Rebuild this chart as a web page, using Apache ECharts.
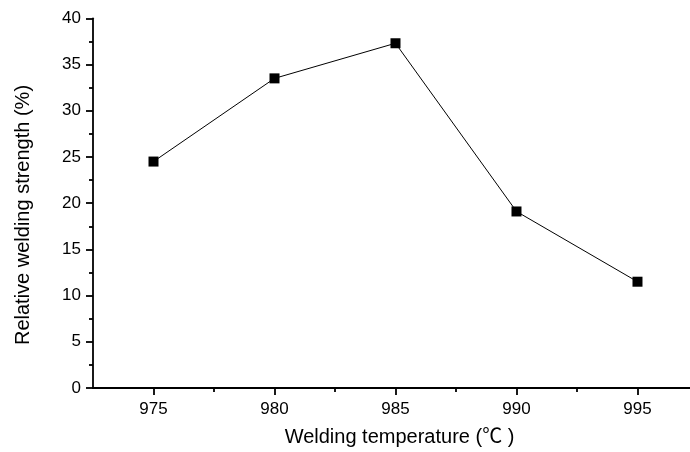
<!DOCTYPE html>
<html>
<head>
<meta charset="utf-8">
<script src="https://cdn.jsdelivr.net/npm/echarts@6/dist/echarts.min.js"></script>
<style>html,body{margin:0;padding:0;background:#fff;}#c{width:690px;height:452px;}</style>
</head>
<body>
<div id="c"></div>
<script>
const temperatures = [975, 980, 985, 990, 995];
const strengths = [24.5, 33.5, 37.3, 19.1, 11.5];
const xMajorTicks = [975, 980, 985, 990, 995];
const xMinorTicks = [977.5, 982.5, 987.5, 992.5];
const xTitle = 'Welding temperature (\u2103 )';
const yTitle = 'Relative welding strength (%)';

const font = 'Arial, "Liberation Sans", "Noto Sans CJK SC", sans-serif';
const chart = echarts.init(document.getElementById('c'), null, {renderer: 'canvas'});
chart.setOption({
  animation: false,
  backgroundColor: '#fff',
  grid: {left: 93, right: 0, top: 18.3, bottom: 63.3, containLabel: false},
  xAxis: [{
    type: 'value', min: 972.5, max: 997.17, position: 'bottom',
    axisLine: {show: true, onZero: false, lineStyle: {color: '#000', width: 1.8}},
    axisTick: {show: true, customValues: xMajorTicks, length: 7, inside: false, lineStyle: {color: '#000', width: 1.8}},
    axisLabel: {customValues: xMajorTicks, margin: 13, color: '#000', fontSize: 17, fontFamily: font},
    splitLine: {show: false},
    name: xTitle, nameLocation: 'middle', nameGap: 39,
    nameTextStyle: {color: '#000', fontSize: 20, fontFamily: font, padding: [0, 0, 0, 16]}
  }, {
    type: 'value', min: 972.5, max: 997.17, position: 'bottom', gridIndex: 0,
    axisLine: {show: false, onZero: false},
    axisTick: {show: true, customValues: xMinorTicks, length: 4, lineStyle: {color: '#000', width: 1.8}},
    axisLabel: {show: false},
    splitLine: {show: false}
  }],
  yAxis: {
    type: 'value', min: 0, max: 40, interval: 5,
    axisLine: {show: true, onZero: false, lineStyle: {color: '#000', width: 1.8}},
    axisTick: {show: true, length: 7, lineStyle: {color: '#000', width: 1.8}},
    minorTick: {show: true, splitNumber: 2, length: 4, lineStyle: {color: '#000', width: 1.8}},
    axisLabel: {margin: 12, color: '#000', fontSize: 17, fontFamily: font},
    splitLine: {show: false}
  },
  graphic: [{
    type: 'text', x: 13, y: 215, rotation: Math.PI / 2,
    style: {text: yTitle, fill: '#000', font: '20px ' + font, textAlign: 'center', textVerticalAlign: 'top'}
  }],
  series: [{
    type: 'line', xAxisIndex: 0,
    data: temperatures.map((t, i) => [t, strengths[i]]),
    symbol: 'rect', symbolSize: 10,
    lineStyle: {color: '#000', width: 1},
    itemStyle: {color: '#000'}
  }]
});
</script>
</body>
</html>
